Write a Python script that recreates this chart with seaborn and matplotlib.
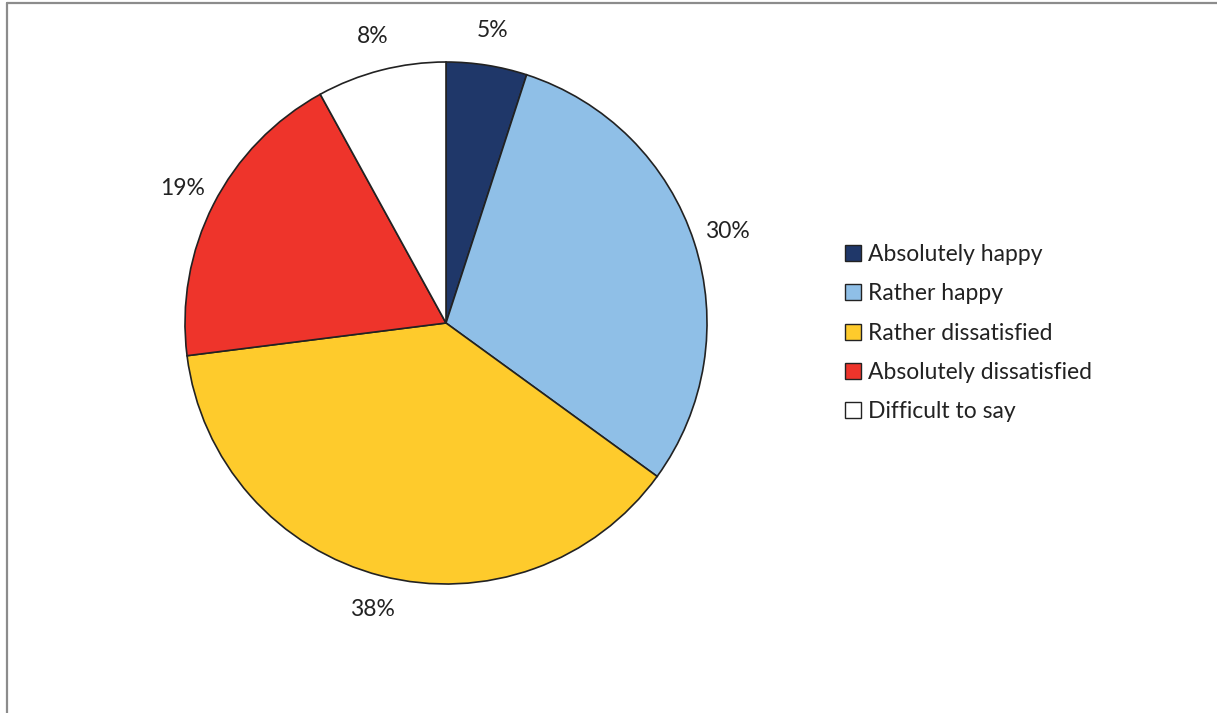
import matplotlib
matplotlib.use("Agg")
import matplotlib.pyplot as plt
from matplotlib.patches import Patch
from matplotlib.lines import Line2D
import seaborn as sns

categories = ["Absolutely happy", "Rather happy", "Rather dissatisfied",
              "Absolutely dissatisfied", "Difficult to say"]
shares = [5, 30, 38, 19, 8]
colors = ["#1f3769", "#8fbfe7", "#fecb2c", "#ee342b", "#ffffff"]

sns.set_theme(style="white")
plt.rcParams["font.family"] = ["Lato", "DejaVu Sans"]

W, H = 1217, 713
fig = plt.figure(figsize=(W / 100, H / 100), dpi=100)
fig.patch.set_facecolor("white")

# pie axes: centre (446, 323) px, radius 261 px
cx, cy, r = 446, 323, 261
ax = fig.add_axes([(cx - r) / W, (H - cy - r) / H, 2 * r / W, 2 * r / H])
wedges, texts = ax.pie(
    shares,
    colors=colors,
    startangle=90,
    counterclock=False,
    labels=[f"{v}%" for v in shares],
    labeldistance=1.135,
    wedgeprops=dict(edgecolor="#222222", linewidth=1.2),
    textprops=dict(fontsize=16.5, color="#222222"),
)
for t in texts:
    t.set_horizontalalignment("center")
    t.set_verticalalignment("center")
ax.set_xlim(-1, 1)
ax.set_ylim(-1, 1)
ax.set_aspect("equal")
ax.axis("off")

handles = [Patch(facecolor=c, edgecolor="#222222", linewidth=1.0) for c in colors]
leg = fig.legend(
    handles, categories,
    loc="upper left",
    bbox_to_anchor=(845 / W, 1 - 244 / H),
    frameon=False,
    fontsize=16.5,
    handlelength=0.7, handleheight=0.7,
    handletextpad=0.3,
    labelspacing=0.8,
    borderaxespad=0, borderpad=0,
)
for t in leg.get_texts():
    t.set_color("#222222")

# frame lines along top and left edges
fig.add_artist(Line2D([7 / W, 1], [1 - 3 / H, 1 - 3 / H], color="#8c8c8c", linewidth=1.6,
                      transform=fig.transFigure))
fig.add_artist(Line2D([7 / W, 7 / W], [0, 1 - 3 / H], color="#8c8c8c", linewidth=1.6,
                      transform=fig.transFigure))

fig.savefig("out.png", dpi=100)
